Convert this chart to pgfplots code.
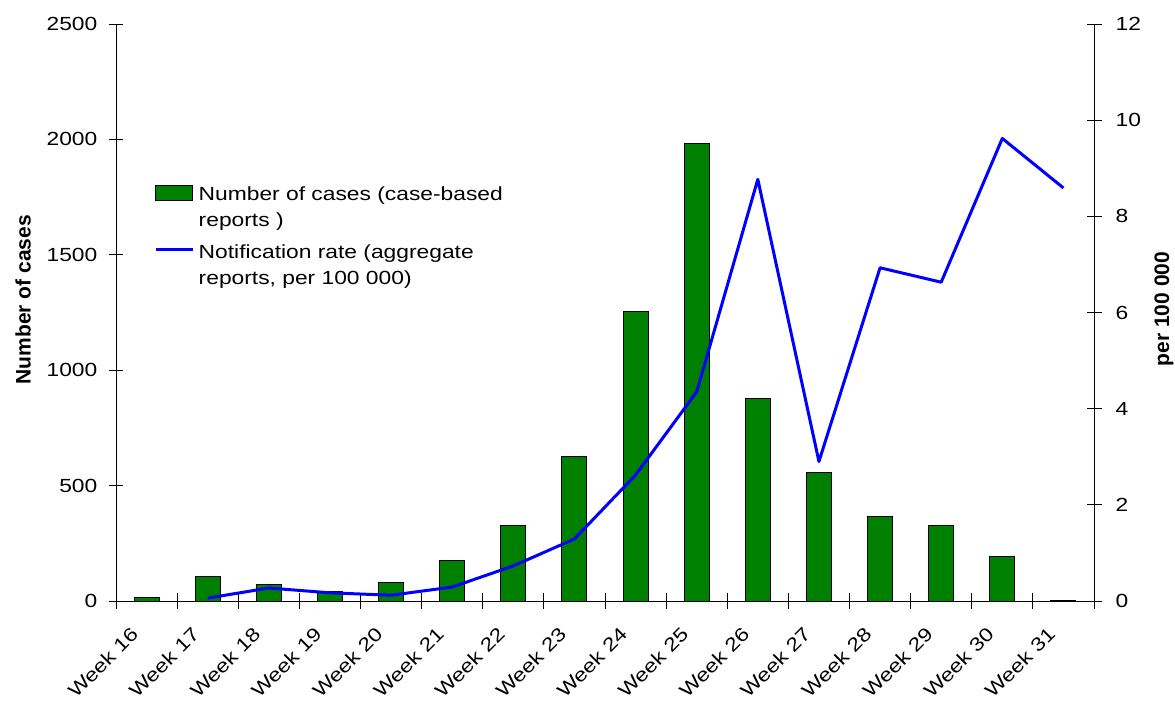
\documentclass[border=0pt]{standalone}
\usepackage{pgfplots}
\pgfplotsset{compat=1.18}
\usepackage{fontspec}
\setmainfont{Liberation Sans}[FakeStretch=1.2]
\newfontfamily\titlefont{Liberation Sans}
\definecolor{barGreen}{RGB}{0,128,0}

\begin{document}
\begin{tikzpicture}[font=\fontsize{19}{26}\selectfont]
% number of cases per week (case-based reports)
\begin{axis}[
  name=main,
  scale only axis, width=978pt, height=577pt,
  xmin=-0.5, xmax=15.5, ymin=0, ymax=2500,
  axis y line*=left, axis x line*=bottom,
  axis line style={black, line width=0.8pt},
  ytick={0,500,...,2500},
  xtick={0,...,15},
  xticklabels={Week 16,Week 17,Week 18,Week 19,Week 20,Week 21,Week 22,Week 23,Week 24,Week 25,Week 26,Week 27,Week 28,Week 29,Week 30,Week 31},
  minor xtick={-0.5,0.5,...,15.5},
  major x tick style={draw=none},
  every tick/.style={black, line width=0.8pt},
  tick align=center, major tick length=15pt, minor tick length=15pt,
  /pgf/number format/assume math mode=true,
  /pgf/number format/1000 sep={},
  xticklabel style={xshift=-7pt, yshift=-27pt, rotate=45, anchor=base east, inner sep=0pt},
  yticklabel style={anchor=east, inner sep=0pt, xshift=-11pt},
  ylabel={\titlefont\fontsize{21}{24}\selectfont\bfseries Number of cases},
  ylabel style={at={(axis description cs:-0.0951,0.522)}, anchor=center, rotate=0},
  legend style={draw=none, fill=none, at={(axis description cs:0.0389,0.7218)}, anchor=north west,
    inner sep=0pt, row sep=17pt, column sep=4.5pt,
    nodes={anchor=base west, align=left, inner sep=0pt}},
]
\addplot[ybar, bar width=25pt, fill=barGreen, draw=black, line width=1pt,
  legend image code/.code={\draw[fill=barGreen, draw=black, line width=1pt] (0pt,26.5pt) rectangle (37pt,41.5pt);}]
  coordinates {(0,17) (1,106) (2,72) (3,40) (4,78) (5,175) (6,325) (7,624)
               (8,1256) (9,1983) (10,878) (11,557) (12,364) (13,325) (14,191) (15,4)};
\addlegendentry{Number of cases (case-based\\reports )}
\addlegendimage{legend image code/.code={\draw[blue, line width=3pt] (0pt,35pt) -- (37pt,35pt);}}
\addlegendentry{Notification rate (aggregate\\reports, per 100 000)}
\end{axis}
% notification rate per 100 000 (aggregate reports)
\begin{axis}[
  scale only axis, width=978pt, height=577pt,
  xmin=-0.5, xmax=15.5, ymin=0, ymax=12,
  axis y line*=right, axis x line=none,
  axis line style={black, line width=0.8pt},
  ytick={0,2,...,12},
  every tick/.style={black, line width=0.8pt},
  tick align=center, major tick length=15pt,
  /pgf/number format/assume math mode=true,
  yticklabel style={anchor=west, inner sep=0pt, xshift=14pt},
  ylabel={\titlefont\fontsize{21}{24}\selectfont\bfseries per 100 000},
  ylabel style={at={(axis description cs:1.0716,0.506)}, anchor=center},
]
\addplot[blue, line width=3pt, line join=round]
  coordinates {(1,0.06) (2,0.27) (3,0.17) (4,0.12) (5,0.29) (6,0.73) (7,1.29)
               (8,2.62) (9,4.35) (10,8.77) (11,2.90) (12,6.93) (13,6.63) (14,9.62) (15,8.59)};
\end{axis}
% page frame around the plot area
\pgfresetboundingbox
\path ([xshift=-116pt,yshift=-100pt]main.south west) rectangle ([xshift=81pt,yshift=24pt]main.north east);
\end{tikzpicture}
\end{document}
